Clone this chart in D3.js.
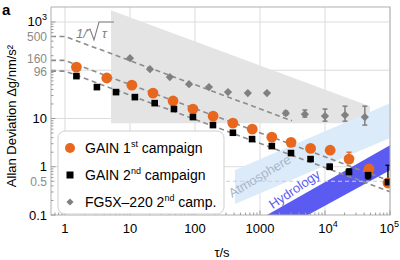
<!DOCTYPE html>
<html>
<head>
<meta charset="utf-8">
<script src="https://cdn.jsdelivr.net/npm/d3@7"></script>
<style>
  body { margin: 0; background: #fff; }
  svg { font-family: "Liberation Sans", Arial, sans-serif; display: block; }
</style>
</head>
<body>
<div id="chart"></div>
<script>
// GAIN 1st campaign
const gain1Tau = [1.5, 4.4, 10.7, 22.6, 46, 93, 190, 383, 760, 1520, 3000, 6000, 12000, 23400, 47600, 93000];
const gain1Val = [116, 69, 49, 33.6, 23, 15.7, 11.2, 8.0, 6.0, 4.1, 3.2, 2.4, 2.2, 1.44, 0.9, 0.46];
const gain1Lo = [null, null, null, null, null, null, null, null, null, null, null, null, null, 1.35, 0.82, null];
const gain1Hi = [null, null, null, null, null, null, null, null, null, null, null, null, null, 2.0, 1.05, null];
// GAIN 2nd campaign
const gain2Tau = [1.5, 3.1, 6.1, 11.9, 24, 47.5, 93, 189, 383, 755, 1520, 3000, 6000, 11800, 23400, 46000, 93000];
const gain2Val = [75.5, 44.7, 35.2, 27.7, 20.8, 15.7, 10.7, 7.3, 5.06, 3.74, 2.68, 1.92, 1.44, 1.0, 0.78, 0.67, 0.48];
const gain2Lo = [null, null, null, null, null, null, null, null, null, null, null, null, null, 0.88, 0.7, 0.56, 0.42];
const gain2Hi = [null, null, null, null, null, null, null, null, null, null, null, null, null, 1.12, 0.9, 0.99, 1.07];
// FG5X-220 2nd campaign
const fg5Tau = [10, 20.3, 41, 81, 164, 322, 650, 1280, 2500, 4900, 10000, 20300, 41000];
const fg5Val = [178, 105, 72, 51.5, 44.7, 35.2, 33.6, 33.6, 12.9, 12.3, 11.2, 11.8, 10.7];
const fg5Lo = [null, null, null, null, null, null, null, null, 11.8, 10.7, 8.8, 8.8, 7.3];
const fg5Hi = [null, null, null, null, null, null, null, null, 14.2, 15.0, 15.7, 18, 18];

// 1/sqrt(tau) fits: amplitude at tau = 1 and end tau
const fitAmp = [500, 160, 96];
const fitEnd = [3100, 1e5, 1e5];

// shaded regions
const grayBandTau = [5.1, 49000];
const grayBandTopAmp = 3950;
const grayBandFloor = 8;
const atmosTau = [412, 1e5];
const atmosTop = [0.855, 20.8];
const atmosBottom = [0.17, 3.93];
const hydroTopTau = [1280, 1e5];
const hydroTop = [0.1, 2.8];
const hydroBottomTau = [5470, 1e5];
const hydroBottom = [0.1, 0.85];

const xTicks = [1, 10, 100, 1000, 1e4, 1e5];
const yTicks = [0.1, 1, 10, 1000];
const yRefTicks = [500, 160, 96, 0.5];

const width = 400, height = 260;
const margin = { top: 7, right: 10, bottom: 45, left: 51 };

const x = d3.scaleLog()
  .domain([Math.pow(10, -0.215), 1e5])
  .range([margin.left, width - margin.right]);
const y = d3.scaleLog()
  .domain([0.1, Math.pow(10, 3.31)])
  .range([height - margin.bottom, margin.top]);

const orange = "#e8671f";
const greyTxt = "#8a8a8a";

const svg = d3.select("#chart").append("svg")
  .attr("width", width).attr("height", height);

svg.append("defs").append("clipPath").attr("id", "clip")
  .append("rect")
  .attr("x", margin.left).attr("y", margin.top)
  .attr("width", x.range()[1] - margin.left)
  .attr("height", y.range()[0] - margin.top);

// grid
const grid = svg.append("g").attr("stroke", "#dcdcdc").attr("stroke-width", 1);
grid.selectAll(".gx").data(xTicks).join("line")
  .attr("x1", (d) => x(d)).attr("x2", (d) => x(d))
  .attr("y1", margin.top).attr("y2", y.range()[0]);
grid.selectAll(".gy").data([1, 10, 100, 1000]).join("line")
  .attr("x1", margin.left).attr("x2", x.range()[1])
  .attr("y1", (d) => y(d)).attr("y2", (d) => y(d));

const plot = svg.append("g").attr("clip-path", "url(#clip)");

// gray band
const gb = [
  [grayBandTau[0], grayBandTopAmp / Math.sqrt(grayBandTau[0])],
  [grayBandTau[1], grayBandTopAmp / Math.sqrt(grayBandTau[1])],
  [grayBandTau[1], grayBandFloor],
  [grayBandTau[0], grayBandFloor],
];
const poly = d3.line().x((d) => x(d[0])).y((d) => y(d[1]));
plot.append("path")
  .attr("d", poly(gb) + "Z")
  .attr("fill", "#e4e4e4");

// atmosphere band
plot.append("path")
  .attr("d", poly([
    [atmosTau[0], atmosTop[0]], [atmosTau[1], atmosTop[1]],
    [atmosTau[1], atmosBottom[1]], [atmosTau[0], atmosBottom[0]],
  ]) + "Z")
  .attr("fill", "#dcebfa");

// hydrology band
plot.append("path")
  .attr("d", poly([
    [hydroTopTau[0], hydroTop[0]], [hydroTopTau[1], hydroTop[1]],
    [hydroBottomTau[1], hydroBottom[1]], [hydroBottomTau[0], hydroBottom[0]],
  ]) + "Z")
  .attr("fill", "#5b5bf2");

// 0.5 reference line
plot.append("line")
  .attr("x1", margin.left).attr("x2", x.range()[1])
  .attr("y1", y(0.5)).attr("y2", y(0.5))
  .attr("stroke", "#cfcfcf").attr("stroke-dasharray", "4,3");

// fit lines
fitAmp.forEach((a, i) => {
  const pts = [[x.domain()[0], a], [1, a], [fitEnd[i], a / Math.sqrt(fitEnd[i])]];
  plot.append("path")
    .attr("d", poly(pts))
    .attr("fill", "none")
    .attr("stroke", "#8c8c8c")
    .attr("stroke-width", 1.6)
    .attr("stroke-dasharray", "5,3.5");
});

// band labels
svg.append("text")
  .attr("transform", `translate(262,180) rotate(-31)`)
  .attr("text-anchor", "middle")
  .attr("font-size", 13)
  .attr("fill", "#a9b6c8")
  .text("Atmosphere");
svg.append("text")
  .attr("transform", `translate(297,193) rotate(-34)`)
  .attr("text-anchor", "middle")
  .attr("font-size", 13)
  .attr("fill", "#5b5bf2")
  .text("Hydrology");

// error bars
function errorBars(tau, lo, hi, color) {
  const data = tau.map((t, i) => [t, lo[i], hi[i]]).filter((d) => d[1] != null);
  const g = plot.append("g").attr("stroke", color).attr("stroke-width", 1.4);
  g.selectAll("line.v").data(data).join("line")
    .attr("x1", (d) => x(d[0])).attr("x2", (d) => x(d[0]))
    .attr("y1", (d) => y(d[1])).attr("y2", (d) => y(d[2]));
  g.selectAll("line.a").data(data).join("line")
    .attr("x1", (d) => x(d[0]) - 2.5).attr("x2", (d) => x(d[0]) + 2.5)
    .attr("y1", (d) => y(d[2])).attr("y2", (d) => y(d[2]));
  g.selectAll("line.b").data(data).join("line")
    .attr("x1", (d) => x(d[0]) - 2.5).attr("x2", (d) => x(d[0]) + 2.5)
    .attr("y1", (d) => y(d[1])).attr("y2", (d) => y(d[1]));
}
errorBars(fg5Tau, fg5Lo, fg5Hi, "#7a7a7a");
errorBars(gain1Tau, gain1Lo, gain1Hi, orange);
errorBars(gain2Tau, gain2Lo, gain2Hi, "#000");

// points
const diamond = d3.symbol().type(d3.symbolSquare).size(34);
plot.append("g").selectAll("path").data(fg5Tau.map((t, i) => [t, fg5Val[i]])).join("path")
  .attr("transform", (d) => `translate(${x(d[0])},${y(d[1])}) rotate(45)`)
  .attr("d", diamond)
  .attr("fill", "#808080");
plot.append("g").selectAll("circle").data(gain1Tau.map((t, i) => [t, gain1Val[i]])).join("circle")
  .attr("cx", (d) => x(d[0])).attr("cy", (d) => y(d[1]))
  .attr("r", 5.4)
  .attr("fill", orange);
plot.append("g").selectAll("rect").data(gain2Tau.map((t, i) => [t, gain2Val[i]])).join("rect")
  .attr("x", (d) => x(d[0]) - 3.3).attr("y", (d) => y(d[1]) - 3.3)
  .attr("width", 6.6).attr("height", 6.6)
  .attr("fill", "#000");

// frame
svg.append("rect")
  .attr("x", margin.left).attr("y", margin.top)
  .attr("width", x.range()[1] - margin.left)
  .attr("height", y.range()[0] - margin.top)
  .attr("fill", "none").attr("stroke", "#b0b0b0");

// axis ticks (inside)
const axG = svg.append("g").attr("stroke", "#9a9a9a");
const xMinor = [];
for (let e = -1; e < 5; e++) for (let k = 2; k < 10; k++) {
  const v = k * Math.pow(10, e);
  if (v > x.domain()[0] && v < 1e5) xMinor.push(v);
}
axG.selectAll(".xm").data(xMinor).join("line")
  .attr("x1", (d) => x(d)).attr("x2", (d) => x(d))
  .attr("y1", y.range()[0]).attr("y2", y.range()[0] - 2.5);
axG.selectAll(".xM").data(xTicks).join("line")
  .attr("x1", (d) => x(d)).attr("x2", (d) => x(d))
  .attr("y1", y.range()[0]).attr("y2", y.range()[0] - 4.5);
const yMinor = [];
for (let e = -1; e < 3; e++) for (let k = 2; k < 10; k++) yMinor.push(k * Math.pow(10, e));
axG.selectAll(".ym").data(yMinor).join("line")
  .attr("x1", margin.left).attr("x2", margin.left + 2.5)
  .attr("y1", (d) => y(d)).attr("y2", (d) => y(d));
axG.selectAll(".yM").data([0.1, 1, 10, 100, 1000]).join("line")
  .attr("x1", margin.left).attr("x2", margin.left + 4.5)
  .attr("y1", (d) => y(d)).attr("y2", (d) => y(d));

// x tick labels
const fmtPow = (sel, d) => {
  const e = Math.round(Math.log10(d));
  if (e < 4) sel.text(String(d));
  else {
    sel.append("tspan").text("10");
    sel.append("tspan").attr("dy", -6).attr("font-size", 9).text(e);
  }
};
svg.append("g").selectAll("text").data(xTicks).join("text")
  .attr("x", (d) => (d === 1e5 ? 399 : x(d) + (d >= 1e4 ? 3 : 0)))
  .attr("y", y.range()[0] + 18)
  .attr("text-anchor", (d) => (d === 1e5 ? "end" : "middle"))
  .attr("font-size", 13)
  .each(function (d) { fmtPow(d3.select(this), d); });

// y tick labels
const yLab = svg.append("g").attr("font-size", 13).attr("text-anchor", "end");
yLab.selectAll(".yt").data(yTicks).join("text")
  .attr("x", margin.left - 4)
  .attr("y", (d) => y(d) + 4.5)
  .each(function (d) {
    const s = d3.select(this);
    if (d === 1000) {
      s.append("tspan").text("10");
      s.append("tspan").attr("dy", -6).attr("font-size", 9).text("3");
    } else s.text(String(d));
  });
yLab.selectAll(".yr").data(yRefTicks).join("text")
  .attr("x", margin.left - 4)
  .attr("y", (d) => y(d) + (d === 160 ? 3 : d === 96 ? 5 : 4.5))
  .attr("font-size", 12)
  .attr("fill", greyTxt)
  .text((d) => String(d));

// 1/sqrt(tau) label
const lab = svg.append("g").attr("fill", "#808080").attr("font-size", 13);
lab.append("text").attr("x", 76).attr("y", 38).attr("font-style", "italic").text("1/");
lab.append("path")
  .attr("d", "M87,31 L90,29 L94,40 L99,22 L114,22")
  .attr("fill", "none").attr("stroke", "#808080").attr("stroke-width", 1.1);
lab.append("text").attr("x", 102).attr("y", 38).attr("font-style", "italic").text("τ");

// axis titles
svg.append("text")
  .attr("transform", `translate(16,${(margin.top + y.range()[0]) / 2 + 5}) rotate(-90)`)
  .attr("text-anchor", "middle")
  .attr("font-size", 13)
  .text("Allan Deviation Δg/nm/s²");
svg.append("text")
  .attr("x", 222).attr("y", 257)
  .attr("text-anchor", "middle")
  .attr("font-size", 13)
  .text("τ/s");
svg.append("text")
  .attr("x", 2).attr("y", 15)
  .attr("font-size", 15).attr("font-weight", "bold")
  .text("a");

// legend
const leg = svg.append("g").attr("transform", "translate(58,131)");
leg.append("rect")
  .attr("width", 166).attr("height", 83).attr("rx", 7)
  .attr("fill", "rgba(255,255,255,0.95)").attr("stroke", "#cfcfcf");
const legItems = [
  { pre: "GAIN 1", sup: "st", post: " campaign" },
  { pre: "GAIN 2", sup: "nd", post: " campaign" },
  { pre: "FG5X\u2013220 2", sup: "nd", post: " camp." },
];
legItems.forEach((it, i) => {
  const cy = 17 + i * 27;
  if (i === 0) leg.append("circle").attr("cx", 12).attr("cy", cy).attr("r", 5).attr("fill", orange);
  if (i === 1) leg.append("rect").attr("x", 8.5).attr("y", cy - 3.5).attr("width", 7).attr("height", 7).attr("fill", "#000");
  if (i === 2) leg.append("path").attr("transform", `translate(12,${cy}) rotate(45)`)
    .attr("d", d3.symbol().type(d3.symbolSquare).size(26)).attr("fill", "#808080");
  const t = leg.append("text").attr("x", 27).attr("y", cy + 5).attr("font-size", 14);
  t.append("tspan").text(it.pre);
  t.append("tspan").attr("dy", -6).attr("font-size", 9).text(it.sup);
  t.append("tspan").attr("dy", 6).text(it.post);
});
</script>
</body>
</html>
